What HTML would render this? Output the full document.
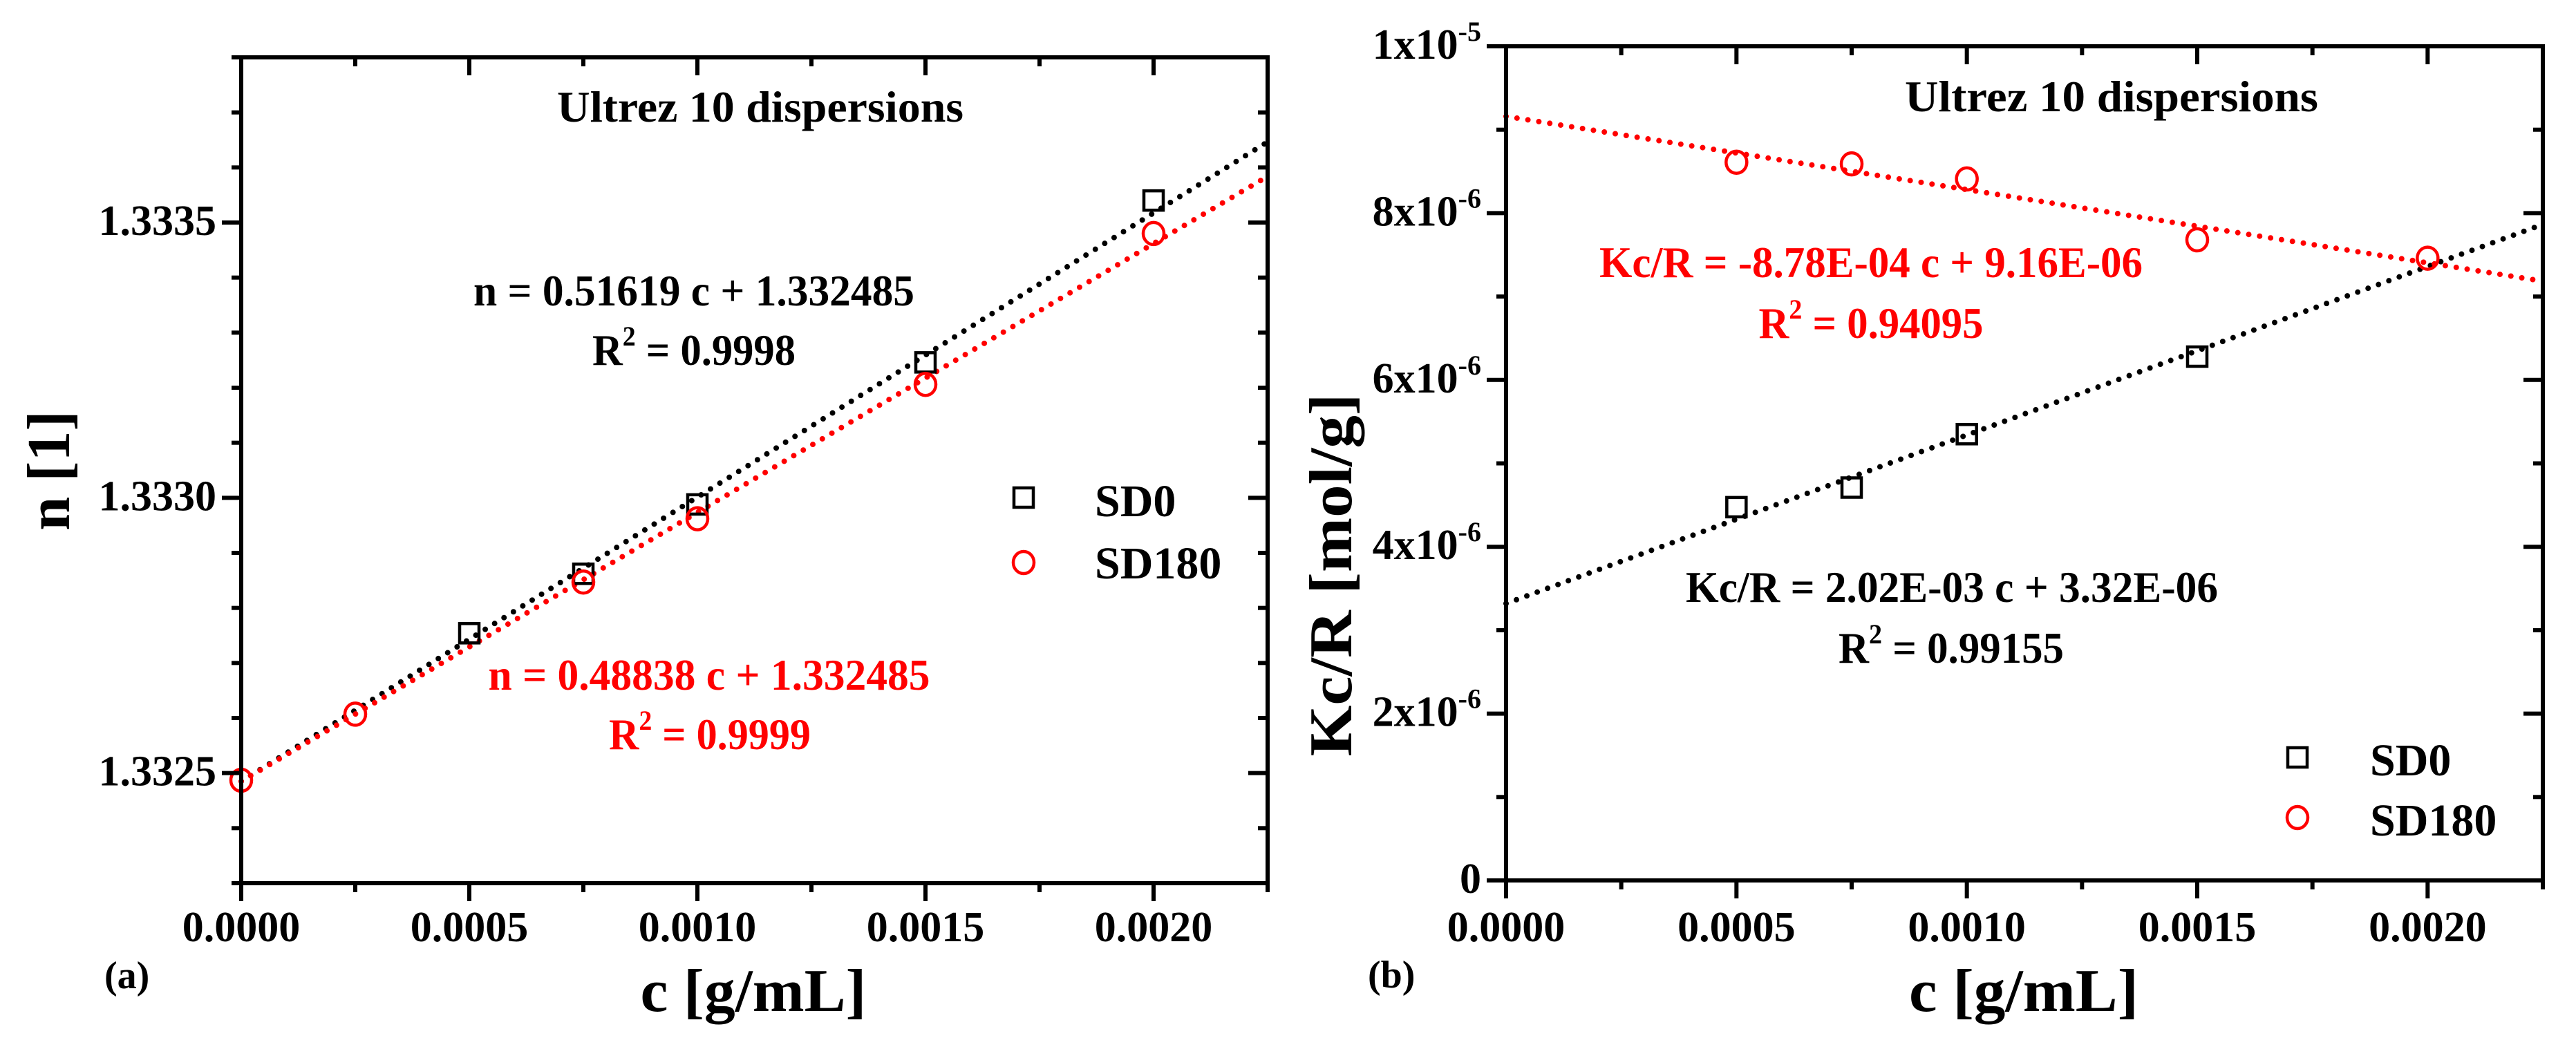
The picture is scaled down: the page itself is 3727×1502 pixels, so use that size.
<!DOCTYPE html>
<html><head><meta charset="utf-8"><style>
html,body{margin:0;padding:0;background:#fff;}
svg{display:block;}
text{font-family:"Liberation Serif",serif;font-weight:bold;}
</style></head><body>
<svg id="fig" width="3727" height="1502" viewBox="0 0 3727 1502" xmlns="http://www.w3.org/2000/svg">
<rect x="0" y="0" width="3727" height="1502" fill="#fff"/>
<g id="pa"></g>
<g id="pb"></g>
</svg>
<script>
// ---- Panel (a) data ----
const aXTicks = [0, 0.0005, 0.0010, 0.0015, 0.0020];
const aXTickLabels = ["0.0000","0.0005","0.0010","0.0015","0.0020"];
const aYTicks = [1.3325, 1.3330, 1.3335];
const aYTickLabels = ["1.3325","1.3330","1.3335"];
const aSD0x = [0.0005, 0.00075, 0.0010, 0.0015, 0.0020];
const aSD0y = [1.332754, 1.332862, 1.332988, 1.333246, 1.333540];
const aSD180x = [0, 0.00025, 0.00075, 0.0010, 0.0015, 0.0020];
const aSD180y = [1.332487, 1.332607, 1.332847, 1.332962, 1.333206, 1.333480];
const aFitSlope = [0.51619, 0.48838];
const aFitIntercept = [1.332485, 1.332485];
// ---- Panel (b) data ----
const bXTicks = [0, 0.0005, 0.0010, 0.0015, 0.0020];
const bXTickLabels = ["0.0000","0.0005","0.0010","0.0015","0.0020"];
const bYTicks = [0, 2e-6, 4e-6, 6e-6, 8e-6, 1e-5];
const bYTickMant = ["0","2x10","4x10","6x10","8x10","1x10"];
const bYTickExp = ["","-6","-6","-6","-6","-5"];
const bSD0x = [0.0005, 0.00075, 0.0010, 0.0015];
const bSD0y = [4.475e-6, 4.71e-6, 5.35e-6, 6.28e-6];
const bSD180x = [0.0005, 0.00075, 0.0010, 0.0015, 0.0020];
const bSD180y = [8.61e-6, 8.59e-6, 8.41e-6, 7.68e-6, 7.46e-6];
const bFitSlope = [2.02e-3, -8.78e-4];
const bFitIntercept = [3.32e-6, 9.16e-6];

const NS = "http://www.w3.org/2000/svg";
function mk(parent, tag, attrs){
  const e = document.createElementNS(NS, tag);
  for (const k in attrs) e.setAttribute(k, attrs[k]);
  parent.appendChild(e);
  return e;
}
const RED = "#ff0000";

function drawPanel(g, P){
  const sx = v => P.x0 + (v - P.xmin) / (P.xmax - P.xmin) * (P.x1 - P.x0);
  const sy = v => P.y1 - (v - P.ymin) / (P.ymax - P.ymin) * (P.y1 - P.y0);
  const fitCols = ["#000", RED];
  for (let i = 0; i < P.slope.length; i++) {
    const l = mk(g, "line", {x1: sx(P.xmin), y1: sy(P.intercept[i] + P.slope[i]*P.xmin),
      x2: sx(P.xmax), y2: sy(P.intercept[i] + P.slope[i]*P.xmax),
      stroke: fitCols[i], "stroke-width": 8, "stroke-linecap": "round", "stroke-dasharray": "0 16"});
    
    
  }
  for (let i = 0; i < P.s0x.length; i++) {
    const r = mk(g, "rect", {x: sx(P.s0x[i]) - 14, y: sy(P.s0y[i]) - 14, width: 28, height: 28,
      fill: "none", stroke: "#000", "stroke-width": 4.5});
    
    
  }
  for (let i = 0; i < P.s1x.length; i++) {
    const c = mk(g, "ellipse", {cx: sx(P.s1x[i]), cy: sy(P.s1y[i]), rx: 15, ry: 16,
      fill: "none", stroke: RED, "stroke-width": 4.5});
    
    
  }
  const fr = mk(g, "rect", {x: P.x0, y: P.y0, width: P.x1 - P.x0, height: P.y1 - P.y0,
    fill: "none", stroke: "#000", "stroke-width": 6});
  
  
  const xg = mk(g, "g", {});
  
  
  for (let v = P.xmin; v <= P.xmax + 1e-12; v += P.xminor) {
    const major = P.xt.some(t => Math.abs(t - v) < 1e-10);
    const len = major ? 26 : 13;
    mk(xg, "line", {x1: sx(v), y1: P.y1, x2: sx(v), y2: P.y1 + len, stroke: "#000", "stroke-width": 6});
    mk(xg, "line", {x1: sx(v), y1: P.y0, x2: sx(v), y2: P.y0 + len, stroke: "#000", "stroke-width": 6});
  }
  for (let i = 0; i < P.xt.length; i++) {
    const t = mk(xg, "text", {x: sx(P.xt[i]), y: 1362, "font-size": 62, "text-anchor": "middle"});
    t.textContent = P.xl[i];
    
    
  }
  const yg = mk(g, "g", {});
  
  
  for (let v = P.ymin; v <= P.ymax + P.yminor*1e-3; v += P.yminor) {
    const major = P.yt.some(t => Math.abs(t - v) < P.yminor*1e-3);
    const len = major ? 28 : 14;
    mk(yg, "line", {x1: P.x0 - len, y1: sy(v), x2: P.x0, y2: sy(v), stroke: "#000", "stroke-width": 6});
    mk(yg, "line", {x1: P.x1 - len, y1: sy(v), x2: P.x1, y2: sy(v), stroke: "#000", "stroke-width": 6});
  }
  for (let i = 0; i < P.yt.length; i++) {
    const t = mk(yg, "text", {x: P.x0 - 36, y: sy(P.yt[i]) + 18, "font-size": 62, "text-anchor": "end"});
    t.textContent = P.yl[i];
    if (P.yexp && P.yexp[i]) {
      const sp = mk(t, "tspan", {dy: -26, "font-size": 40});
      sp.textContent = P.yexp[i];
    }
    
    
  }
}

function txt(g, name, x, y, size, content, color, anchor, len){
  const t = mk(g, "text", {x: x, y: y, "font-size": size, fill: color || "#000", "text-anchor": anchor || "middle"});
  if (len) { t.setAttribute("textLength", len); t.setAttribute("lengthAdjust", "spacingAndGlyphs"); }
  t.textContent = content;
  
  
  return t;
}
function r2(g, name, x, y, content, color, len){
  const t = mk(g, "text", {x: x, y: y, "font-size": 64, fill: color, "text-anchor": "middle",
    textLength: len, lengthAdjust: "spacingAndGlyphs"});
  t.appendChild(document.createTextNode("R"));
  const s = mk(t, "tspan", {dy: -28, "font-size": 40}); s.textContent = "2";
  const r = mk(t, "tspan", {dy: 28}); r.textContent = " = " + content;
  
  
}

const ga = document.getElementById("pa");
drawPanel(ga, {x0: 349, x1: 1834, y0: 83, y1: 1278, xmin: 0, xmax: 0.00225, ymin: 1.3323, ymax: 1.3338,
  xminor: 0.00025, yminor: 0.0001, xt: aXTicks, xl: aXTickLabels, yt: aYTicks, yl: aYTickLabels,
  s0x: aSD0x, s0y: aSD0y, s1x: aSD180x, s1y: aSD180y, slope: aFitSlope, intercept: aFitIntercept});
txt(ga, "chart-title", 1100, 176, 64, "Ultrez 10 dispersions", "#000", "middle", 588);
txt(ga, "equation-sd0", 1004, 442, 64, "n = 0.51619 c + 1.332485", "#000", "middle", 638);
r2(ga, "r2-sd0", 1004, 528, "0.9998", "#000", 294);
txt(ga, "equation-sd180", 1026, 998, 64, "n = 0.48838 c + 1.332485", RED, "middle", 639);
r2(ga, "r2-sd180", 1027, 1084, "0.9999", RED, 292);
let lg = mk(ga, "g", {});  
mk(lg, "rect", {x: 1467, y: 706, width: 28, height: 28, fill: "none", stroke: "#000", "stroke-width": 4.5});
mk(lg, "ellipse", {cx: 1481, cy: 814, rx: 15, ry: 16, fill: "none", stroke: RED, "stroke-width": 4.5});
txt(lg, "legend-sd0", 1584, 747, 66, "SD0", "#000", "start");
txt(lg, "legend-sd180", 1584, 837, 66, "SD180", "#000", "start");
txt(ga, "panel-label-a", 151, 1430, 56, "(a)", "#000", "start");
txt(ga, "x-axis-title", 1090, 1463, 88, "c [g/mL]", "#000", "middle", 327);
let ya = txt(ga, "y-axis-title", 0, 0, 88, "n [1]", "#000", "middle");
ya.setAttribute("transform", "translate(100,681) rotate(-90)");

const gb = document.getElementById("pb");
drawPanel(gb, {x0: 2179, x1: 3679, y0: 67, y1: 1274, xmin: 0, xmax: 0.00225, ymin: 0, ymax: 1e-5,
  xminor: 0.00025, yminor: 1e-6, xt: bXTicks, xl: bXTickLabels, yt: bYTicks, yl: bYTickMant, yexp: bYTickExp,
  s0x: bSD0x, s0y: bSD0y, s1x: bSD180x, s1y: bSD180y, slope: bFitSlope, intercept: bFitIntercept});
txt(gb, "chart-title", 3055, 161, 64, "Ultrez 10 dispersions", "#000", "middle", 598);
txt(gb, "equation-sd180", 2707, 401, 64, "Kc/R = -8.78E-04 c + 9.16E-06", RED, "middle", 786);
r2(gb, "r2-sd180", 2707, 489, "0.94095", RED, 325);
txt(gb, "equation-sd0", 2824, 871, 64, "Kc/R = 2.02E-03 c + 3.32E-06", "#000", "middle", 770);
r2(gb, "r2-sd0", 2823, 959, "0.99155", "#000", 326);
lg = mk(gb, "g", {});  
mk(lg, "rect", {x: 3310, y: 1082, width: 28, height: 28, fill: "none", stroke: "#000", "stroke-width": 4.5});
mk(lg, "ellipse", {cx: 3324, cy: 1183, rx: 15, ry: 16, fill: "none", stroke: RED, "stroke-width": 4.5});
txt(lg, "legend-sd0", 3429, 1122, 66, "SD0", "#000", "start");
txt(lg, "legend-sd180", 3429, 1209, 66, "SD180", "#000", "start");
txt(gb, "panel-label-b", 1979, 1429, 56, "(b)", "#000", "start");
txt(gb, "x-axis-title", 2928, 1463, 88, "c [g/mL]", "#000", "middle", 332);
let yb = txt(gb, "y-axis-title", 0, 0, 88, "Kc/R [mol/g]", "#000", "middle", 525);
yb.setAttribute("transform", "translate(1955,832) rotate(-90)");
</script>
</body></html>
